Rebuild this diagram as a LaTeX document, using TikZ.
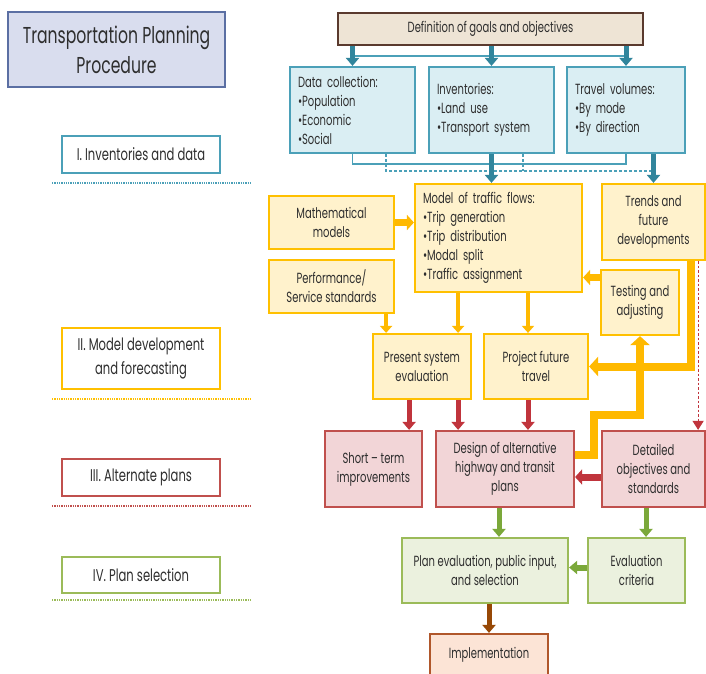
\documentclass[tikz,border=0pt]{standalone}
\usepackage{fontspec}
\setmainfont[FakeStretch=0.68]{Poppins}
\usetikzlibrary{arrows.meta,calc}
\definecolor{txt}{HTML}{2E2E2E}
\definecolor{tealB}{HTML}{4BA0B8}
\definecolor{tealA}{HTML}{31859C}
\definecolor{blueF}{HTML}{DAEEF3}
\definecolor{yelB}{HTML}{FFC000}
\definecolor{yelF}{HTML}{FFF2CC}
\definecolor{yelA}{HTML}{FFB900}
\definecolor{redB}{HTML}{C0504D}
\definecolor{redF}{HTML}{F2D5D7}
\definecolor{redA}{HTML}{C0343C}
\definecolor{grnB}{HTML}{9BBB59}
\definecolor{grnF}{HTML}{EBF1DE}
\definecolor{grnA}{HTML}{7BA83A}
\definecolor{brnB}{HTML}{B0572B}
\definecolor{brnF}{HTML}{FCE4D6}
\definecolor{brnA}{HTML}{974806}
\definecolor{defB}{HTML}{5A3A2E}
\definecolor{defF}{HTML}{EEE4D5}
\definecolor{titB}{HTML}{5B6FA3}
\definecolor{titF}{HTML}{D9DDEE}
\begin{document}
\begin{tikzpicture}[x=1pt,y=-1pt,
  box/.style={draw, line width=2.2pt, inner sep=0pt, align=center, text=txt,
    font=\fontsize{14.7}{19}\selectfont},
  bluebox/.style={box, draw=tealB, fill=blueF},
  yelbox/.style={box, draw=yelB, fill=yelF},
  redbox/.style={box, draw=redB, fill=redF},
  grnbox/.style={box, draw=grnB, fill=grnF},
  brnbox/.style={box, draw=brnB, fill=brnF},
  leftbox/.style={text width=#1pt, align=left, inner xsep=8pt},
  secbox/.style={draw=#1, line width=1.5pt, fill=white, inner sep=0pt, align=center, text=txt,
    font=\fontsize{17}{24}\selectfont, minimum width=158pt},
  secline/.style={draw=#1, line width=1.3pt, dash pattern=on 1.3pt off 1pt},
  tarrow/.style={draw=tealA, line width=5pt, -{Triangle[width=13pt,length=8pt]}},
  tline/.style={draw=tealB, line width=1.3pt},
  tdash/.style={draw=tealB, line width=1.3pt, dash pattern=on 3pt off 2pt},
  yarrow/.style={draw=yelA, line width=4.5pt, -{Triangle[width=12pt,length=7pt]}},
  ythick/.style={draw=yelA, line width=8pt, -{Triangle[width=19pt,length=9pt]}},
  rarrow/.style={draw=redA, line width=5pt, -{Triangle[width=13pt,length=8pt]}},
  garrow/.style={draw=grnA, line width=5pt, -{Triangle[width=13pt,length=8pt]}},
  barrow/.style={draw=brnA, line width=5pt, -{Triangle[width=13pt,length=8pt]}},
]
\useasboundingbox (0,0) rectangle (706,673);
\clip (0,0) rectangle (706,673);
\fill[white] (0,0) rectangle (706,673);

% title and section labels
\node[draw=titB, fill=titF, line width=1.5pt, inner sep=0pt, align=center, text=txt,
  font=\fontsize{23}{30}\selectfont, minimum width=217pt, minimum height=75pt]
  (title) at (116.5,49.5) {Transportation Planning\\Procedure};
\node[secbox=tealB, minimum height=37pt] (s1) at (141,154.5) {I. Inventories and data};
\node[secbox=yelB, minimum height=61pt] (s2) at (141,358.5) {II. Model development\\and forecasting};
\node[secbox=redB, minimum height=37pt] (s3) at (141,477.5) {III. Alternate plans};
\node[secbox=grnB, minimum height=36pt] (s4) at (141,575) {IV. Plan selection};
\coordinate (l1a) at (52,183);  \coordinate (l1b) at (252,183);
\coordinate (l2a) at (52,399);  \coordinate (l2b) at (252,399);
\coordinate (l3a) at (52,506);  \coordinate (l3b) at (252,506);
\coordinate (l4a) at (52,600);  \coordinate (l4b) at (252,600);
\draw[secline=tealB] (l1a) -- (l1b);
\draw[secline=yelB] (l2a) -- (l2b);
\draw[secline=redB] (l3a) -- (l3b);
\draw[secline=grnB] (l4a) -- (l4b);

% top
\node[box, draw=defB, fill=defF, minimum width=305pt, minimum height=32pt] (def) at (490.5,29)
  {Definition of goals and objectives};
\node[bluebox, minimum width=125pt, minimum height=86pt, leftbox=109] (dc) at (352.5,110)
  {Data collection:\\•Population\\•Economic\\•Social};
\node[bluebox, minimum width=125pt, minimum height=86pt, leftbox=109] (inv) at (491.5,110)
  {Inventories:\\•Land use\\•Transport system};
\node[bluebox, minimum width=118pt, minimum height=86pt, leftbox=102] (tv) at (626,110)
  {Travel volumes:\\•By mode\\•By direction};

% model row
\node[yelbox, minimum width=167pt, minimum height=108pt, leftbox=151] (model) at (498.5,238)
  {Model of traffic flows:\\•Trip generation\\•Trip distribution\\•Modal split\\•Traffic assignment};
\node[yelbox, minimum width=103pt, minimum height=76pt] (trends) at (653.5,222)
  {Trends and\\future\\developments};
\node[yelbox, minimum width=125pt, minimum height=53pt] (math) at (331.5,222.5)
  {Mathematical\\models};
\node[yelbox, minimum width=125pt, minimum height=53pt] (perf) at (331.5,286.5)
  {Performance/\\Service standards};
\node[yelbox, minimum width=78pt, minimum height=65pt] (test) at (640,302.5)
  {Testing and\\adjusting};
\node[yelbox, minimum width=98pt, minimum height=65pt] (present) at (422,366.5)
  {Present system\\evaluation};
\node[yelbox, minimum width=104pt, minimum height=65pt] (project) at (536,366.5)
  {Project future\\travel};

% alternate plans
\node[redbox, minimum width=97pt, minimum height=76pt] (short) at (373.5,469)
  {Short – term\\improvements};
\node[redbox, minimum width=138pt, minimum height=76pt] (design) at (505,469)
  {Design of alternative\\highway and transit\\plans};
\node[redbox, minimum width=103pt, minimum height=76pt] (detail) at (653.5,469)
  {Detailed\\objectives and\\standards};

% plan selection
\node[grnbox, minimum width=166pt, minimum height=65pt] (plan) at (485,570.5)
  {Plan evaluation, public input,\\and selection};
\node[grnbox, minimum width=97pt, minimum height=65pt] (evalc) at (636.5,570.5)
  {Evaluation\\criteria};
\node[brnbox, minimum width=118pt, minimum height=42pt] (impl) at (489,655)
  {Implementation};

% teal connectors
\draw[tline] (def.south -| dc.north) ++(0,10) -- ([yshift=-10pt]def.south -| tv.north);
\draw[tarrow] (def.south -| dc.north) -- (dc.north);
\draw[tarrow] (def.south -| inv.north) -- (inv.north);
\draw[tarrow] (def.south -| tv.north) -- (tv.north);
\draw[tline] (dc.south) -- ++(0,10) -| (tv.south);
\coordinate (dA) at ([xshift=-30pt]dc.south east);
\coordinate (dB) at ([xshift=-32pt]inv.south east);
\coordinate (dE) at ([yshift=12pt]trends.north);
\draw[tdash] (dA) |- (dE);
\draw[tdash] (dB) -- (dB |- dE);
\draw[tarrow] (inv.south) -- (inv.south |- model.north);
\draw[tarrow] (tv.south -| trends.north) -- (trends.north);

% yellow connectors
\draw[yarrow, line width=7pt, -{Triangle[width=15pt,length=7pt]}] (math.east) -- (math.east -| model.west);
\coordinate (tW) at ([yshift=25pt]test.west);
\draw[yarrow, line width=7pt, -{Triangle[width=15pt,length=7pt]}] (tW) -- (tW -| model.east);
\coordinate (pA) at ([xshift=-14pt]present.north east);
\coordinate (pB) at ([xshift=-8pt]project.north);
\coordinate (pC) at ([xshift=-9pt]perf.south east);
\draw[yarrow] (pA |- model.south) -- (pA);
\draw[yarrow] (pB |- model.south) -- (pB);
\draw[yarrow] (pC) -- (pC |- present.north);
\draw[ythick] ([xshift=-15pt]trends.south east) |- (project.east);
\draw[ythick] ([yshift=14pt]design.east) -- ++(19,0) -- ++(0,-40) -| (test.south);

% red connectors
\coordinate (rA) at ([xshift=-14pt]short.north east);
\draw[rarrow] (rA |- present.south) -- (rA);
\draw[rarrow] (pA |- present.south) -- (pA |- design.north);
\draw[rarrow] (pB |- project.south) -- (pB |- design.north);
\coordinate (rD) at ([yshift=-8pt]detail.west);
\draw[rarrow, line width=7pt, -{Triangle[width=15pt,length=7pt]}] (rD) -- (rD -| design.east);
\draw[draw=redA, line width=1.2pt, dash pattern=on 2.5pt off 2pt, -{Triangle[width=11pt,length=9pt]}]
  ([xshift=-8pt]trends.south east) -- ([xshift=-8pt]detail.north east);

% green connectors
\coordinate (gA) at ([xshift=-6pt]design.south);
\coordinate (gB) at ([xshift=-7.5pt]detail.south);
\draw[garrow] (gA) -- (gA |- plan.north);
\draw[garrow] (gB) -- (gB |- evalc.north);
\draw[garrow, line width=6pt] ([yshift=3pt]evalc.west) -- ([yshift=3pt]evalc.west -| plan.east);

% brown connector
\draw[barrow] (plan.south -| impl.north) -- (impl.north);
\end{tikzpicture}
\end{document}
